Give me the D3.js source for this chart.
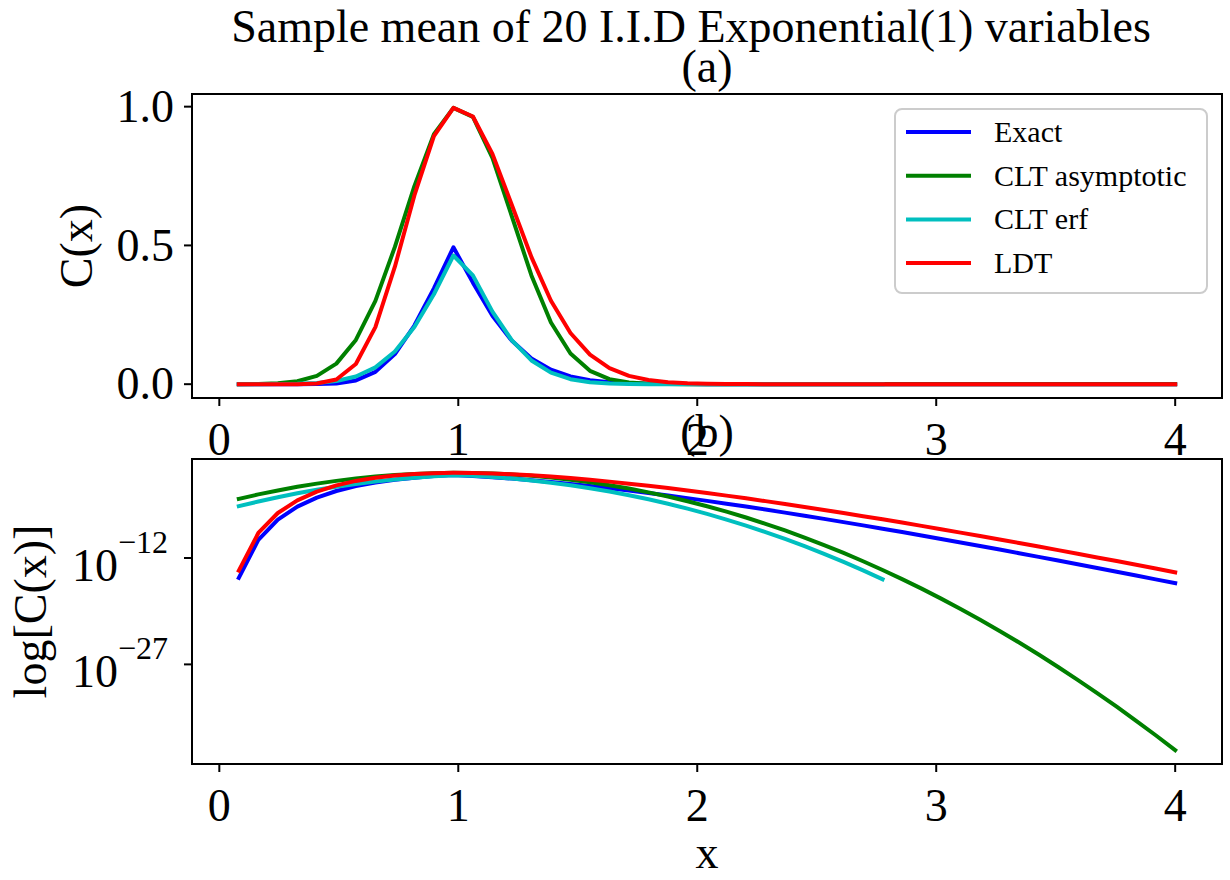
<!DOCTYPE html>
<html>
<head>
<meta charset="utf-8">
<script src="https://cdn.jsdelivr.net/npm/d3@7"></script>
<style>
  html, body { margin: 0; padding: 0; background: #ffffff; }
  svg { display: block; }
  text { font-family: "Liberation Serif", "Times New Roman", serif; fill: #000; }
</style>
</head>
<body>
<svg id="chart" width="1230" height="880"></svg>
<script>
// ---------------- data ----------------
const xValues = [0.0816,0.1633,0.2449,0.3265,0.4082,0.4898,0.5714,0.6531,0.7347,0.8163,
  0.8980,0.9796,1.0612,1.1429,1.2245,1.3061,1.3878,1.4694,1.5510,1.6327,
  1.7143,1.7959,1.8776,1.9592,2.0408,2.1224,2.2041,2.2857,2.3673,2.4490,
  2.5306,2.6122,2.6939,2.7755,2.8571,2.9388,3.0204,3.1020,3.1837,3.2653,
  3.3469,3.4286,3.5102,3.5918,3.6735,3.7551,3.8367,3.9184,4.0000];

const exactValues = [1.58e-15,3.52e-10,2.52e-7,1.72e-5,3.26e-4,2.76e-3,0.01349,0.04436,0.1084,0.2113,
  0.3453,0.4932,0.3659,0.2468,0.1561,0.0929,0.05235,0.02800,0.01429,6.98e-3,
  3.275e-3,1.481e-3,6.47e-4,2.74e-4,1.126e-4,4.51e-5,1.757e-5,6.69e-6,2.49e-6,9.09e-7,
  3.25e-7,1.142e-7,3.94e-8,1.338e-8,4.47e-9,1.474e-9,4.79e-10,1.536e-10,4.87e-11,1.523e-11,
  4.71e-12,1.443e-12,4.37e-13,1.312e-13,3.90e-14,1.148e-14,3.35e-15,9.71e-16,2.79e-16];

const cltAsymValues = [2.174e-4,9.11e-4,3.34e-3,0.01072,0.03012,0.07405,0.1593,0.3001,0.4947,0.7137,
  0.9011,0.9958,0.9632,0.8154,0.6041,0.3918,0.2223,0.1104,0.04802,0.01827,
  6.08e-3,1.773e-3,4.52e-4,1.010e-4,1.974e-5,3.38e-6,5.05e-7,6.62e-8,7.59e-9,7.62e-10,
  6.69e-11,5.14e-12,3.46e-13,2.04e-14,1.05e-15,4.74e-17,1.87e-18,6.46e-20,1.95e-21,5.17e-23,
  1.20e-24,2.43e-26,4.31e-28,6.70e-30,9.10e-32,1.08e-33,1.13e-35,1.03e-37,8.19e-40];

const cltErfValues = [2.00e-5,9.13e-5,3.67e-4,1.298e-3,4.06e-3,0.01125,0.02764,0.06039,0.1177,0.2057,
  0.3241,0.4636,0.3921,0.2615,0.1577,0.0855,0.04145,0.01790,6.87e-3,2.33e-3,
  7.01e-4,1.857e-4,4.35e-5,8.95e-6,1.62e-6,2.59e-7,3.63e-8,4.47e-9,4.83e-10,4.59e-11,
  3.82e-12,2.79e-13,1.79e-14,1.0e-15,null,null,null,null,null,null,
  null,null,null,null,null,null,null,null,null];

const ldtValues = [1.64e-14,3.35e-9,2.18e-6,1.343e-4,2.277e-3,0.01706,0.07274,0.2054,0.4232,0.6802,
  0.8942,0.9958,0.9646,0.8298,0.6445,0.4579,0.3008,0.1844,0.1062,0.05791,
  0.03002,0.01488,7.07e-3,3.24e-3,1.431e-3,6.13e-4,2.547e-4,1.030e-4,4.06e-5,1.563e-5,
  5.89e-6,2.17e-6,7.85e-7,2.79e-7,9.72e-8,3.34e-8,1.128e-8,3.76e-9,1.234e-9,4.00e-10,
  1.282e-10,4.05e-11,1.269e-11,3.93e-12,1.203e-12,3.65e-13,1.096e-13,3.26e-14,9.63e-15];

const seriesNames = ["Exact", "CLT asymptotic", "CLT erf", "LDT"];
const seriesColors = ["#0000ff", "#008000", "#00bfbf", "#ff0000"];
const xTickValues = [0, 1, 2, 3, 4];
const topYTicks = [0.0, 0.5, 1.0];
const logYTickExponents = [-12, -27];
const titleText = "Sample mean of 20 I.I.D Exponential(1) variables";
const panelTitles = ["(a)", "(b)"];

// ---------------- layout ----------------
const svg = d3.select("#chart");
const FS = 46;          // main font size
const LEG_FS = 30;
const LW = 4;           // data line width
const plotLeft = 192, plotRight = 1222;
const panels = [
  { top: 94, bottom: 398 },
  { top: 459, bottom: 764 }
];

const series = [exactValues, cltAsymValues, cltErfValues, ldtValues].map((vals, i) => ({
  name: seriesNames[i], color: seriesColors[i],
  points: xValues.map((x, j) => ({ x, y: vals[j] }))
}));

// x scale with matplotlib-like 5% margins
const xExt = d3.extent(xValues);
const xPad = (xExt[1] - xExt[0]) * 0.05;
const x = d3.scaleLinear().domain([xExt[0] - xPad, xExt[1] + xPad]).range([plotLeft, plotRight]);

const allVals = series.flatMap(s => s.points.map(p => p.y)).filter(v => v != null);
const yMin = d3.min(allVals), yMax = d3.max(allVals);
const yPadLin = (yMax - yMin) * 0.05;
const yTop = d3.scaleLinear().domain([yMin - yPadLin, yMax + yPadLin])
  .range([panels[0].bottom, panels[0].top]);

const lgMin = Math.log10(yMin), lgMax = Math.log10(yMax);
const lgPad = (lgMax - lgMin) * 0.05;
const yBot = d3.scaleLog().domain([Math.pow(10, lgMin - lgPad), Math.pow(10, lgMax + lgPad)])
  .range([panels[1].bottom, panels[1].top]);

// clip paths
const defs = svg.append("defs");
panels.forEach((p, i) => {
  defs.append("clipPath").attr("id", "clip" + i).append("rect")
    .attr("x", plotLeft).attr("y", p.top)
    .attr("width", plotRight - plotLeft).attr("height", p.bottom - p.top);
});

function drawPanel(i, yScale) {
  const p = panels[i];
  const g = svg.append("g");
  const line = d3.line()
    .defined(d => d.y != null && d.y > 0)
    .x(d => x(d.x)).y(d => yScale(d.y));
  const lines = g.append("g").attr("clip-path", `url(#clip${i})`);
  series.forEach(s => {
    lines.append("path").datum(s.points)
      .attr("d", line)
      .attr("fill", "none")
      .attr("stroke", s.color)
      .attr("stroke-width", LW)
      .attr("stroke-linejoin", "round")
      .attr("stroke-linecap", "square");
  });
  // frame
  g.append("rect").attr("x", plotLeft).attr("y", p.top)
    .attr("width", plotRight - plotLeft).attr("height", p.bottom - p.top)
    .attr("fill", "none").attr("stroke", "#000").attr("stroke-width", 2);
  // x ticks
  const xt = g.append("g");
  xTickValues.forEach(v => {
    xt.append("line").attr("x1", x(v)).attr("x2", x(v))
      .attr("y1", p.bottom).attr("y2", p.bottom + 8)
      .attr("stroke", "#000").attr("stroke-width", 2);
    xt.append("text").attr("x", x(v)).attr("y", p.bottom + 57)
      .attr("text-anchor", "middle").attr("font-size", FS).text(d3.format("d")(v));
  });
  return g;
}

// panel (a)
const gA = drawPanel(0, yTop);
topYTicks.forEach(v => {
  const yy = yTop(v);
  gA.append("line").attr("x1", plotLeft - 8).attr("x2", plotLeft)
    .attr("y1", yy).attr("y2", yy).attr("stroke", "#000").attr("stroke-width", 2);
  gA.append("text").attr("x", plotLeft - 18).attr("y", yy).attr("dy", "0.33em")
    .attr("text-anchor", "end").attr("font-size", FS).text(d3.format(".1f")(v));
});
gA.append("text")
  .attr("transform", `translate(92,${(panels[0].top + panels[0].bottom) / 2}) rotate(-90)`)
  .attr("text-anchor", "middle").attr("font-size", FS).text("C(x)");

// panel (b)
const gB = drawPanel(1, yBot);
logYTickExponents.forEach(e => {
  const yy = yBot(Math.pow(10, e));
  gB.append("line").attr("x1", plotLeft - 8).attr("x2", plotLeft)
    .attr("y1", yy).attr("y2", yy).attr("stroke", "#000").attr("stroke-width", 2);
  const t = gB.append("text").attr("x", plotLeft - 24).attr("y", yy + 23)
    .attr("text-anchor", "end").attr("font-size", FS);
  t.append("tspan").text("10");
  t.append("tspan").attr("dy", -28).attr("font-size", 32).text("\u2212" + Math.abs(e));
});
gB.append("text")
  .attr("transform", `translate(46,${(panels[1].top + panels[1].bottom) / 2}) rotate(-90)`)
  .attr("text-anchor", "middle").attr("font-size", FS).text("log[C(x)]");
gB.append("text").attr("x", (plotLeft + plotRight) / 2).attr("y", 868)
  .attr("text-anchor", "middle").attr("font-size", FS).text("x");

// titles
svg.append("text").attr("x", 691).attr("y", 42)
  .attr("text-anchor", "middle").attr("font-size", FS).text(titleText);
panels.forEach((p, i) => {
  svg.append("text").attr("x", (plotLeft + plotRight) / 2).attr("y", p.top - 12)
    .attr("text-anchor", "middle").attr("font-size", FS).text(panelTitles[i]);
});

// legend
const leg = svg.append("g");
leg.append("rect").attr("x", 895).attr("y", 109).attr("width", 312).attr("height", 184)
  .attr("rx", 7).attr("fill", "#fff").attr("fill-opacity", 0.8)
  .attr("stroke", "#cccccc").attr("stroke-width", 2);
series.forEach((s, i) => {
  const yy = 132 + i * 43.7;
  leg.append("line").attr("x1", 906).attr("x2", 971).attr("y1", yy).attr("y2", yy)
    .attr("stroke", s.color).attr("stroke-width", LW);
  leg.append("text").attr("x", 994).attr("y", yy).attr("dy", "0.33em")
    .attr("font-size", LEG_FS).text(s.name);
});
</script>
</body>
</html>
